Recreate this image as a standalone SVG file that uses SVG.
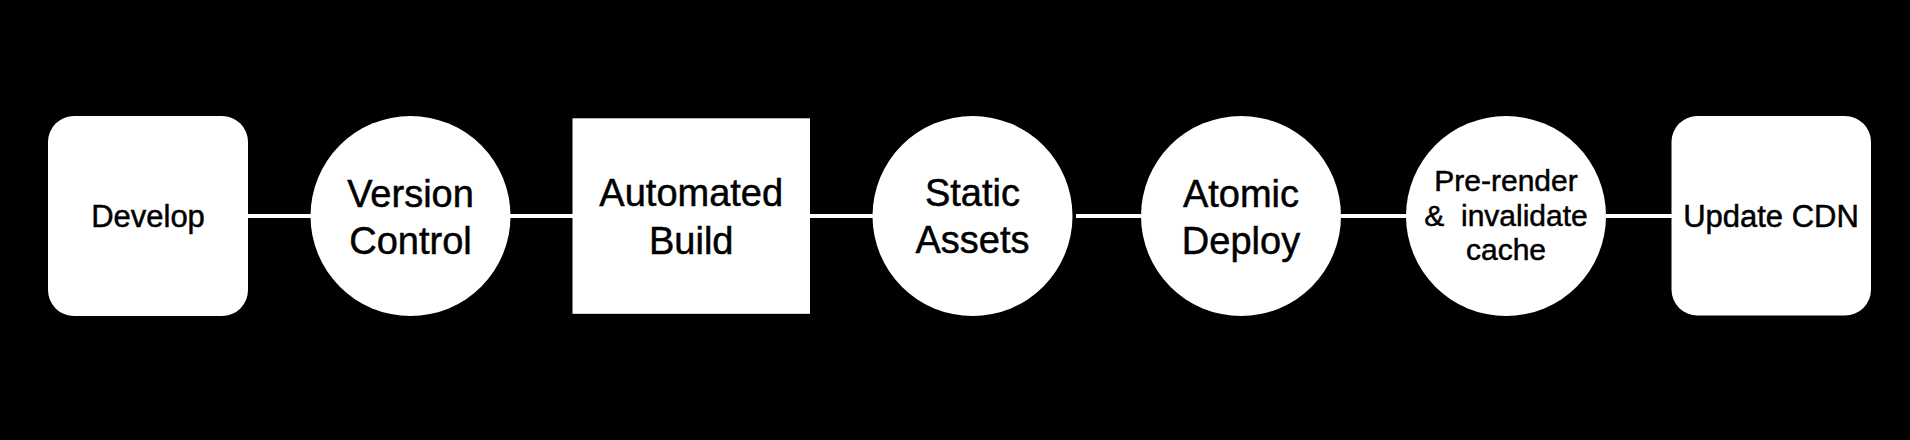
<svg xmlns="http://www.w3.org/2000/svg" width="1910" height="440" viewBox="0 0 1910 440">
<style>
.shape{fill:#ffffff}
.conn{stroke:#ffffff;stroke-width:4;fill:none}
text{font-family:"Liberation Sans",Arial,Helvetica,sans-serif;fill:#000000;stroke:#000000;stroke-width:0.5;text-anchor:middle}
.lg{font-size:38px}
.md{font-size:31px}
.sm{font-size:30px}
</style>
<rect x="0" y="0" width="1910" height="440" fill="#000000"/>
<g id="connectors">
<line class="conn" x1="247" y1="216" x2="311" y2="216"/>
<line class="conn" x1="510" y1="216" x2="573" y2="216"/>
<line class="conn" x1="810" y1="216" x2="873" y2="216"/>
<line class="conn" x1="1076" y1="216" x2="1141" y2="216"/>
<line class="conn" x1="1341" y1="216" x2="1406" y2="216"/>
<line class="conn" x1="1606" y1="216" x2="1672" y2="216"/>
</g>
<g id="develop">
<rect class="shape" x="48" y="116" width="200" height="200" rx="26" ry="26"/>
<text class="md" x="148" y="227">Develop</text>
</g>
<g id="version-control">
<circle class="shape" cx="410.5" cy="216" r="100"/>
<text class="lg" x="410.5" y="207">Version</text>
<text class="lg" x="410.5" y="254">Control</text>
</g>
<g id="automated-build">
<rect class="shape" x="572.5" y="118.3" width="237.5" height="195.5"/>
<text class="lg" x="691.25" y="206">Automated</text>
<text class="lg" x="691.25" y="254">Build</text>
</g>
<g id="static-assets">
<circle class="shape" cx="972.5" cy="216" r="100"/>
<text class="lg" x="972.5" y="206">Static</text>
<text class="lg" x="972.5" y="253">Assets</text>
</g>
<g id="atomic-deploy">
<circle class="shape" cx="1241" cy="216" r="100"/>
<text class="lg" x="1241" y="207">Atomic</text>
<text class="lg" x="1241" y="254">Deploy</text>
</g>
<g id="prerender">
<circle class="shape" cx="1506" cy="216" r="100"/>
<text class="sm" x="1506" y="191">Pre-render</text>
<text class="sm" x="1506" y="226" style="white-space:pre">&amp;  invalidate</text>
<text class="sm" x="1506" y="260">cache</text>
</g>
<g id="update-cdn">
<rect class="shape" x="1671.5" y="116" width="199.5" height="199.5" rx="26" ry="26"/>
<text class="md" x="1771" y="227">Update CDN</text>
</g>
</svg>
